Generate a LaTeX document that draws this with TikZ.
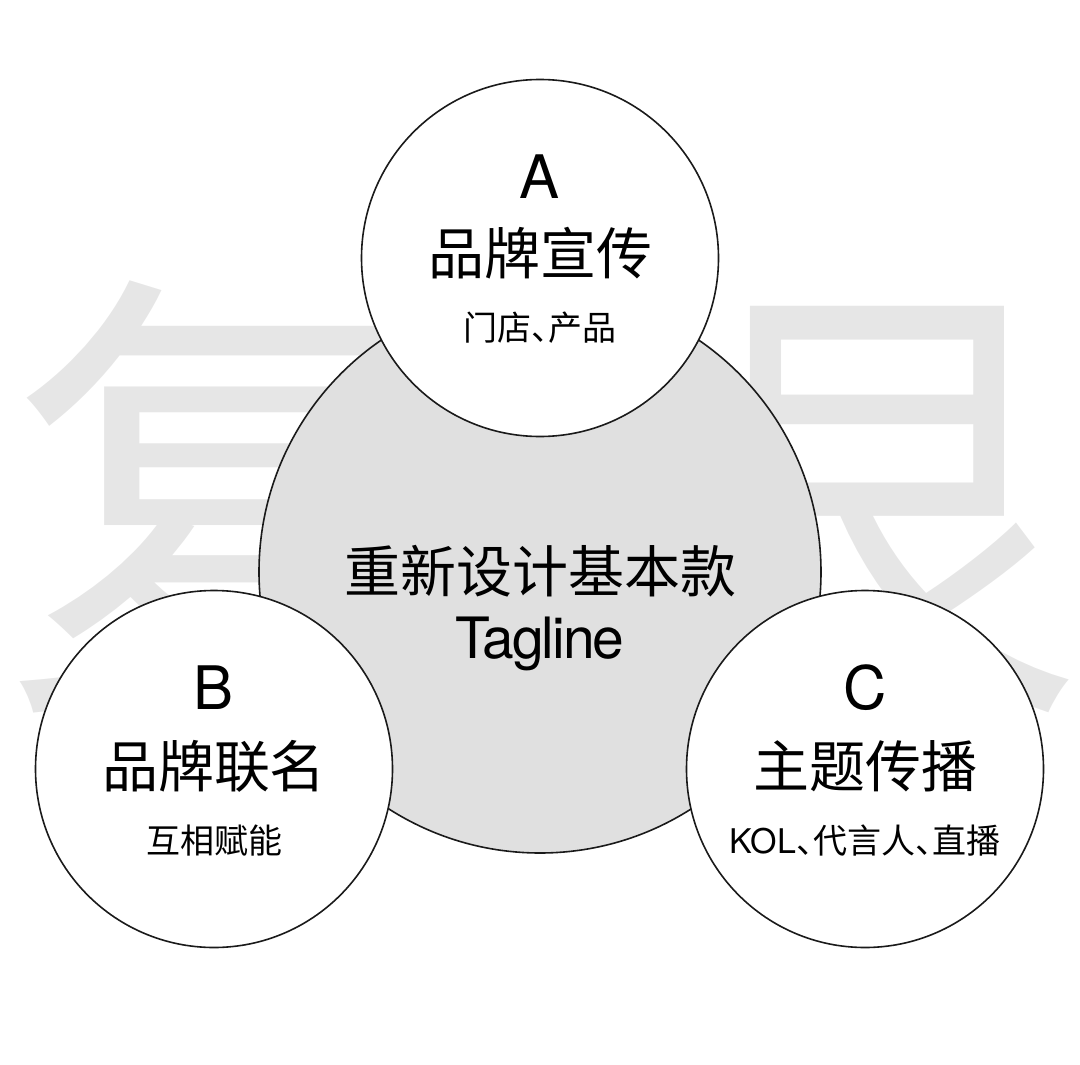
\documentclass[tikz,border=0pt]{standalone}
\usepackage{fontspec}
\setmainfont{TeX Gyre Heros}
\newfontfamily\cjk{Noto Sans CJK SC}[RawFeature=+halt]
\usepackage{xcolor}
\usepackage{tikz}
\usetikzlibrary{calc,positioning}
\definecolor{Ink}{HTML}{1A1A1A}
\definecolor{HubGray}{HTML}{E0E0E0}
\definecolor{MarkGray}{HTML}{E6E6E6}
\tikzset{
  every picture/.style={line width=1.6pt},
  hubbox/.style={
    circle,
    draw=Ink,
    fill=HubGray,
    minimum size=562pt,
    inner sep=0pt
  },
  petalbox/.style={hubbox, fill=white, minimum size=357pt},
  watermark/.style={text=MarkGray, inner sep=0pt, font=\fontsize{470}{470}\selectfont\cjk},
  letterlabel/.style={anchor=base, inner sep=0pt, font=\fontsize{60}{64}\selectfont},
  mainlabel/.style={anchor=base, inner sep=0pt, font=\fontsize{56}{60}\selectfont\cjk},
  sublabel/.style={anchor=base, inner sep=0pt, font=\fontsize{34}{38}\selectfont},
  taglabel/.style={anchor=base, inner sep=0pt,
    font=\fontsize{57}{60}\selectfont\addfontfeatures{LetterSpace=-3.5}}
}

\begin{document}
\begin{tikzpicture}[x=1pt, y=-1pt]
  \useasboundingbox (0,0) rectangle (1080,1065);

  % faint characters behind the circles
  \node[watermark, anchor=base west] (markleft) at (4,675) {复};
  \node[watermark, anchor=base west] (markright) at (680,678) {\scalebox{0.85}[1]{艮}};

  \node[hubbox] (hub) at (540,572) {};
  \node[petalbox] (pa) at (540,258) {};
  \node[petalbox] (pb) at (214,769) {};
  \node[petalbox] (pc) at (865,769) {};

  \node[mainlabel] (hubtitle) at ($(hub)+(0,20)$) {重新设计基本款};
  \node[taglabel] (hubtag) at ($(hub)+(0,86)$) {Tagline};

  \node[letterlabel] (pakey) at ($(pa)+(0,-60)$) {A};
  \node[mainlabel] (patitle) at ($(pa)+(0,16)$) {品牌宣传};
  \node[sublabel] (panote) at ($(pa)+(0,82)$) {\cjk 门店、产品};

  \node[letterlabel] (pbkey) at ($(pb)+(0,-60)$) {B};
  \node[mainlabel] (pbtitle) at ($(pb)+(0,18)$) {品牌联名};
  \node[sublabel] (pbnote) at ($(pb)+(0,84)$) {\cjk 互相赋能};

  \node[letterlabel] (pckey) at ($(pc)+(0,-60)$) {C};
  \node[mainlabel] (pctitle) at ($(pc)+(0,18)$) {主题传播};
  \node[sublabel] (pcnote) at ($(pc)+(0,84)$) {KOL{\cjk 、代言人、直播}};
\end{tikzpicture}
\end{document}
